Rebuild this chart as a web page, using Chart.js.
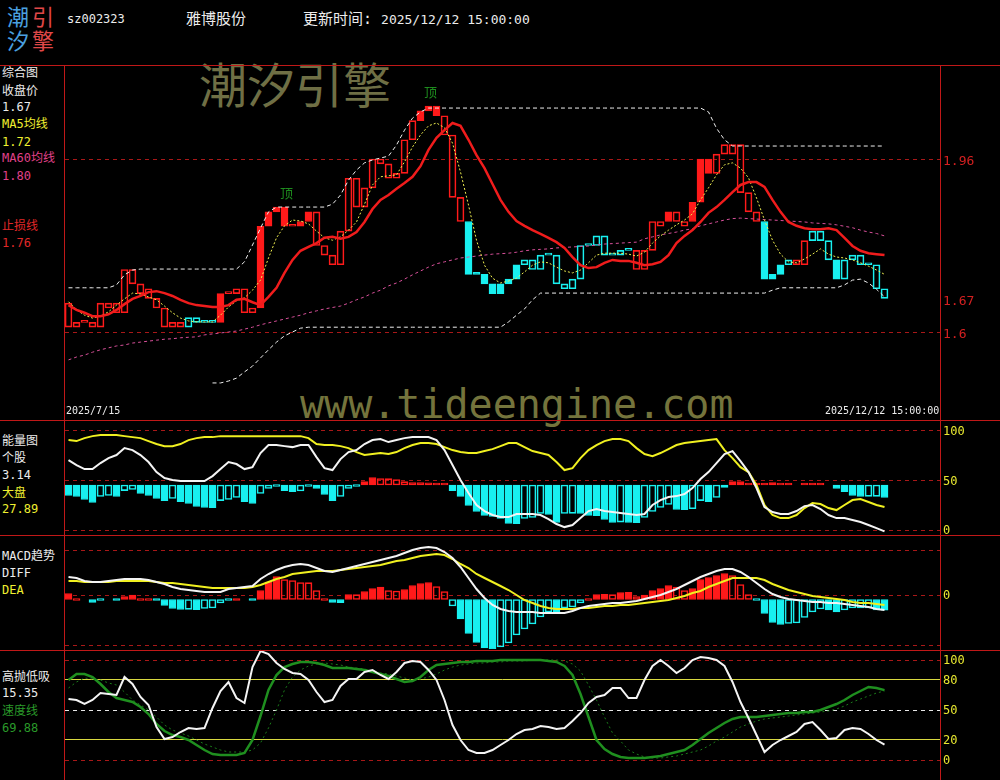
<!DOCTYPE html>
<html>
<head>
<meta charset="utf-8">
<script src="https://cdn.jsdelivr.net/npm/chart.js@4.4.1/dist/chart.umd.min.js"></script>
<style>
body { margin: 0; background: #000; }
#wrap { position: relative; width: 1000px; height: 780px; overflow: hidden; background: #000; }
.t { position: absolute; white-space: nowrap; font-family: "DejaVu Sans Mono", "Noto Sans CJK SC", monospace; font-size: 12px; line-height: 14px; color: #ececec; z-index: 3; }
.ln { position: absolute; background: #c01818; z-index: 4; }
.wm { position: absolute; white-space: nowrap; z-index: 1; }
canvas { position: absolute; z-index: 2; }
</style>
</head>
<body>
<div id="wrap">
  <!-- header -->
  <div class="t" style="left:7px;top:3px;font:22px 'Noto Sans CJK SC';line-height:24px;color:#4aa0e0">潮</div>
  <div class="t" style="left:32px;top:3px;font:22px 'Noto Sans CJK SC';line-height:24px;color:#e04848">引</div>
  <div class="t" style="left:7px;top:27px;font:22px 'Noto Sans CJK SC';line-height:24px;color:#4aa0e0">汐</div>
  <div class="t" style="left:32px;top:27px;font:22px 'Noto Sans CJK SC';line-height:24px;color:#e04848">擎</div>
  <div class="t" style="left:67px;top:12px;font-size:12px">sz002323</div>
  <div class="t" style="left:186px;top:10px;font-size:15px;line-height:18px">雅博股份</div>
  <div class="t" style="left:303px;top:10px;font-size:15px;line-height:18px">更新时间: <span style="font-size:13px">2025/12/12 15:00:00</span></div>

  <!-- watermarks -->
  <div class="wm" style="left:199px;top:56px;font:48px 'Noto Sans CJK SC';line-height:52px;color:#6f6f45">潮汐引擎</div>
  <div class="wm" style="left:300px;top:384px;font:40px 'DejaVu Sans Mono';line-height:40px;color:#74743c">www.tideengine.com</div>

  <!-- left labels -->
  <div class="t" style="left:2px;top:66px">综合图</div>
  <div class="t" style="left:2px;top:84px">收盘价</div>
  <div class="t" id="vClose" style="left:2px;top:100px"></div>
  <div class="t" style="left:2px;top:117px;color:#f0f030">MA5均线</div>
  <div class="t" id="vMa5" style="left:2px;top:135px;color:#f0f030"></div>
  <div class="t" style="left:2px;top:151px;color:#e0408a">MA60均线</div>
  <div class="t" id="vMa60" style="left:2px;top:169px;color:#e0408a"></div>
  <div class="t" style="left:2px;top:219px;color:#e02828">止损线</div>
  <div class="t" id="vStop" style="left:2px;top:236px;color:#e02828"></div>

  <div class="t" style="left:2px;top:434px">能量图</div>
  <div class="t" style="left:2px;top:451px">个股</div>
  <div class="t" id="vStock" style="left:2px;top:468px"></div>
  <div class="t" style="left:2px;top:486px;color:#f0f030">大盘</div>
  <div class="t" id="vMarket" style="left:2px;top:502px;color:#f0f030"></div>

  <div class="t" style="left:2px;top:549px">MACD趋势</div>
  <div class="t" style="left:2px;top:566px">DIFF</div>
  <div class="t" style="left:2px;top:583px;color:#f0f030">DEA</div>

  <div class="t" style="left:2px;top:670px">高抛低吸</div>
  <div class="t" id="vGp" style="left:2px;top:686px"></div>
  <div class="t" style="left:2px;top:704px;color:#2a9a2a">速度线</div>
  <div class="t" id="vSpeed" style="left:2px;top:721px;color:#2a9a2a"></div>

  <div class="t" style="left:66px;top:405px;font-size:10px;line-height:12px">2025/7/15</div>
  <div class="t" style="left:825px;top:405px;font-size:10px;line-height:12px">2025/12/12 15:00:00</div>

  <!-- frame -->
  <div class="ln" style="left:0;top:65px;width:1000px;height:1px"></div>
  <div class="ln" style="left:0;top:420px;width:1000px;height:1px"></div>
  <div class="ln" style="left:0;top:535px;width:1000px;height:1px"></div>
  <div class="ln" style="left:0;top:650px;width:1000px;height:1px"></div>
  <div class="ln" style="left:64px;top:65px;width:1px;height:715px"></div>
  <div class="ln" style="left:940px;top:65px;width:1px;height:715px"></div>

  <canvas id="cMain" width="935" height="355" style="left:65px;top:65px"></canvas>
  <canvas id="cVol" width="935" height="115" style="left:65px;top:420px"></canvas>
  <canvas id="cMacd" width="935" height="114" style="left:65px;top:535px"></canvas>
  <canvas id="cGp" width="935" height="131" style="left:65px;top:649px"></canvas>
</div>

<script>
// K线 (2025/7/15 - 2025/12/12), body top / bottom, style: R/r red filled/hollow, C/c cyan filled/hollow
var kTop = [
    1.66,1.62,1.62,1.62,1.66,1.66,1.66,1.73,1.73,1.70,
    1.69,1.67,1.65,1.62,1.62,1.63,1.63,1.62,1.62,1.68,
    1.68,1.69,1.69,1.65,1.82,1.85,1.86,1.86,1.82,1.83,
    1.85,1.85,1.78,1.76,1.81,1.92,1.92,1.90,1.96,1.96,
    1.95,1.93,2.00,2.04,2.06,2.07,2.07,2.05,2.01,1.88,
    1.83,1.72,1.72,1.70,1.70,1.71,1.74,1.75,1.75,1.76,
    1.76,1.76,1.70,1.71,1.78,1.78,1.80,1.80,1.76,1.77,
    1.77,1.77,1.77,1.83,1.83,1.85,1.85,1.83,1.87,1.96,
    1.96,1.97,1.99,1.99,1.99,1.89,1.85,1.83,1.72,1.74,
    1.75,1.75,1.79,1.81,1.81,1.79,1.75,1.75,1.76,1.76,
    1.74,1.74,1.69];
var kBot = [
    1.61,1.61,1.62,1.61,1.61,1.65,1.64,1.64,1.70,1.68,
    1.67,1.65,1.61,1.61,1.61,1.61,1.62,1.62,1.62,1.62,
    1.68,1.68,1.64,1.64,1.65,1.82,1.85,1.82,1.82,1.82,
    1.83,1.78,1.76,1.74,1.74,1.81,1.86,1.86,1.90,1.95,
    1.92,1.92,1.93,2.00,2.04,2.06,2.05,2.01,1.88,1.83,
    1.72,1.72,1.70,1.68,1.68,1.70,1.71,1.74,1.73,1.73,
    1.76,1.70,1.69,1.69,1.71,1.78,1.78,1.76,1.76,1.76,
    1.77,1.73,1.73,1.77,1.82,1.83,1.83,1.82,1.83,1.87,
    1.93,1.93,1.97,1.97,1.89,1.85,1.83,1.71,1.71,1.72,
    1.74,1.74,1.74,1.79,1.79,1.75,1.71,1.71,1.75,1.74,
    1.74,1.69,1.67];
var kStyle = 'rrrrrrrrrr' + 'rrrrrccccR' + 'rrrrRRRRrR' + 'Rrrrrrrrrr' + 'rrrrRRRrrr' +
             'CCCCCCCccc' + 'cccccccccc' + 'crrrrRrrRR' + 'RrrrrrrCCC' + 'crrcccCccc' + 'ccc';
var closeLast = 1.67;

var stopLine = [
    1.656,1.646,1.640,1.633,1.633,1.637,1.646,1.658,1.669,1.675,
    1.683,1.685,1.681,1.675,1.667,1.660,1.656,1.654,1.652,1.652,
    1.656,1.667,1.669,1.662,1.656,1.673,1.692,1.723,1.750,1.769,
    1.777,1.785,1.796,1.798,1.794,1.798,1.808,1.829,1.856,1.875,
    1.885,1.898,1.910,1.923,1.945,1.979,2.004,2.020,2.035,2.029,
    2.000,1.968,1.941,1.908,1.875,1.850,1.831,1.821,1.812,1.804,
    1.796,1.787,1.775,1.756,1.739,1.733,1.735,1.744,1.750,1.748,
    1.748,1.744,1.739,1.741,1.746,1.760,1.785,1.800,1.812,1.829,
    1.848,1.860,1.875,1.891,1.906,1.912,1.912,1.902,1.875,1.850,
    1.829,1.821,1.816,1.814,1.814,1.816,1.812,1.796,1.779,1.769,
    1.764,1.762,1.760];
var ma5 = [
    1.663,1.646,1.635,1.629,1.633,1.642,1.656,1.669,1.681,1.679,
    1.673,1.667,1.654,1.640,1.629,1.623,1.621,1.621,1.621,1.635,
    1.652,1.665,1.671,1.687,1.708,1.754,1.796,1.821,1.833,1.831,
    1.825,1.810,1.796,1.791,1.798,1.812,1.829,1.866,1.906,1.923,
    1.925,1.927,1.954,1.985,2.010,2.029,2.035,2.025,1.993,1.933,
    1.864,1.791,1.739,1.712,1.702,1.706,1.712,1.725,1.739,1.746,
    1.744,1.735,1.727,1.723,1.729,1.744,1.760,1.764,1.764,1.764,
    1.762,1.758,1.766,1.785,1.800,1.812,1.823,1.833,1.846,1.875,
    1.900,1.927,1.948,1.952,1.941,1.921,1.879,1.833,1.791,1.762,
    1.746,1.744,1.752,1.762,1.773,1.762,1.756,1.754,1.750,1.744,
    1.737,1.729,1.72];
var ma60 = [
    1.542,1.548,1.552,1.558,1.563,1.567,1.571,1.573,1.577,1.579,
    1.581,1.583,1.585,1.586,1.588,1.589,1.590,1.594,1.596,1.598,
    1.600,1.602,1.606,1.610,1.615,1.619,1.623,1.627,1.631,1.635,
    1.640,1.644,1.648,1.651,1.654,1.660,1.667,1.673,1.681,1.687,
    1.696,1.702,1.710,1.719,1.727,1.735,1.742,1.746,1.750,1.754,
    1.756,1.758,1.760,1.762,1.763,1.764,1.766,1.769,1.771,1.772,
    1.773,1.775,1.776,1.777,1.778,1.779,1.781,1.783,1.784,1.785,
    1.786,1.787,1.794,1.798,1.802,1.805,1.808,1.812,1.815,1.821,
    1.825,1.829,1.833,1.836,1.837,1.836,1.835,1.834,1.833,1.832,
    1.831,1.830,1.829,1.827,1.826,1.825,1.823,1.820,1.817,1.812,
    1.808,1.805,1.80];
var upperBand = [
    1.692,1.692,1.692,1.692,1.692,1.692,1.698,1.719,1.729,1.731,
    1.731,1.731,1.731,1.731,1.731,1.731,1.731,1.731,1.731,1.731,
    1.731,1.731,1.746,1.781,1.816,1.850,1.860,1.860,1.860,1.860,
    1.860,1.860,1.860,1.866,1.885,1.916,1.937,1.952,1.958,1.962,
    1.966,1.989,2.020,2.045,2.058,2.066,2.066,2.066,2.066,2.066,
    2.066,2.066,2.066,2.066,2.066,2.066,2.066,2.066,2.066,2.066,
    2.066,2.066,2.066,2.066,2.066,2.066,2.066,2.066,2.066,2.066,
    2.066,2.066,2.066,2.066,2.066,2.066,2.066,2.066,2.066,2.066,
    2.058,2.024,2.000,1.987,1.987,1.987,1.987,1.987,1.987,1.987,
    1.987,1.987,1.987,1.987,1.987,1.987,1.987,1.987,1.987,1.987,
    1.987,1.987,1.987];
var lowerBand = [
    null,null,null,null,null,null,null,null,null,null,
    null,null,null,null,null,null,null,null,1.494,1.494,
    1.498,1.504,1.517,1.529,1.546,1.563,1.579,1.592,1.600,1.608,
    1.610,1.610,1.610,1.610,1.610,1.610,1.610,1.610,1.610,1.610,
    1.610,1.610,1.610,1.610,1.610,1.610,1.610,1.610,1.610,1.610,
    1.610,1.610,1.610,1.610,1.610,1.621,1.635,1.648,1.667,1.681,
    1.681,1.681,1.681,1.681,1.681,1.681,1.681,1.681,1.681,1.681,
    1.681,1.681,1.681,1.681,1.681,1.681,1.681,1.681,1.681,1.681,
    1.681,1.681,1.681,1.681,1.681,1.681,1.681,1.681,1.687,1.692,
    1.692,1.692,1.692,1.692,1.692,1.692,1.692,1.698,1.708,1.710,
    1.702,1.689,1.673];
var dingIdx = [28, 46];
var mainTicks = [1.96, 1.67, 1.6];
var mainTickText = ['1.96', '1.67', '1.6'];
var mainTickLine = [1, 0, 1];

// 能量图
var energyStock = [
    75.2,70.2,66.1,66.1,72.2,77.2,80.3,87.3,85.3,80.3,
    73.2,63.1,57.0,55.0,54.0,54.0,54.0,54.0,59.0,66.1,
    73.2,71.2,66.1,68.1,82.3,90.4,90.4,89.3,88.3,90.4,
    90.4,78.2,67.1,65.1,76.2,83.3,85.3,91.4,95.4,96.4,
    93.4,95.4,97.4,98.4,98.4,98.4,95.4,85.3,70.2,55.0,
    41.9,29.8,23.7,19.7,17.6,17.6,20.7,20.7,20.7,19.7,
    15.6,10.6,7.5,9.6,16.6,23.7,25.7,23.7,22.7,21.7,
    20.7,19.7,20.7,29.8,34.8,37.8,38.8,40.9,46.9,56.0,
    63.1,72.2,81.3,84.3,74.2,63.1,46.9,27.7,22.7,20.7,
    20.7,23.7,28.7,29.8,25.7,19.7,16.6,16.6,14.6,12.6,
    9.6,6.5,3.14];
var energyMarket = [
    95.4,94.4,97.4,99.4,100.5,100.5,100.5,99.4,98.4,97.4,
    94.4,91.4,89.3,89.3,91.4,95.4,97.4,98.4,98.4,99.4,
    99.4,99.4,99.4,99.4,99.4,99.4,99.4,99.4,99.4,99.4,
    97.4,91.4,90.4,90.4,89.3,87.3,83.3,80.3,81.3,82.3,
    81.3,83.3,87.3,90.4,92.4,92.4,91.4,88.3,85.3,83.3,
    82.3,82.3,84.3,86.3,89.3,92.4,92.4,88.3,84.3,82.3,
    80.3,73.2,65.1,67.1,77.2,85.3,90.4,94.4,96.4,96.4,
    94.4,87.3,81.3,79.2,82.3,86.3,90.4,92.4,93.4,94.4,
    95.4,96.4,85.3,77.2,68.1,63.1,50.0,29.8,19.7,16.6,
    16.6,19.7,26.7,31.8,30.8,26.7,24.7,29.8,34.8,35.8,
    32.8,29.8,27.89];
var energyBar = [
    -10.6,-11.6,-14.6,-17.7,-11.6,-10.6,-11.6,-5.6,-4.5,-8.6,
    -10.6,-13.6,-15.7,-13.6,-16.7,-18.7,-21.7,-22.7,-22.8,-15.7,
    -14.6,-12.6,-16.7,-18.7,-8.6,-3.5,-1.5,-5.6,-6.6,-6.0,
    -1.5,-3.5,-9.6,-15.7,-11.6,-3.5,-1.5,3.5,7.6,6.6,
    6.5,5.6,3.5,2.5,2.4,2.3,0.8,0.7,-5.6,-11.6,
    -20.7,-26.8,-30.8,-31.8,-33.8,-38.9,-39.0,-33.8,-32.8,-28.8,
    -29.8,-37.9,-28.8,-28.7,-28.8,-30.8,-30.9,-34.8,-37.9,-37.5,
    -37.9,-38.0,-32.8,-26.8,-22.7,-19.7,-24.7,-24.8,-24.0,-15.7,
    -16.7,-12.6,-2.5,3.5,3.6,0.5,0.3,2.0,2.5,0.5,
    1.5,null,0.3,0.3,0.3,null,-3.5,-6.6,-10.6,-11.6,
    -11.5,-11.4,-12.6];
var energyBase = 50;
var volTicks = [100, 50, 0];
var volTickText = ['100', '50', '0'];

// MACD
var diff = [
    0.0225,0.0215,0.0185,0.0175,0.0175,0.0185,0.0195,0.0205,0.0205,0.0205,
    0.0195,0.0175,0.0155,0.0125,0.0105,0.0095,0.0085,0.0075,0.0075,0.0075,
    0.0105,0.0115,0.0125,0.0135,0.0205,0.0255,0.0295,0.0325,0.0345,0.0355,
    0.0345,0.0315,0.0285,0.0275,0.0295,0.0315,0.0335,0.0355,0.0375,0.0395,
    0.0415,0.0435,0.0465,0.0495,0.0515,0.0525,0.0515,0.0475,0.0415,0.0325,
    0.0215,0.0105,0.0015,-0.0055,-0.0095,-0.0115,-0.0125,-0.0125,-0.0125,-0.0135,
    -0.0135,-0.0135,-0.0135,-0.0115,-0.0085,-0.0065,-0.0055,-0.0045,-0.0035,-0.0035,
    -0.0025,-0.0015,0.0005,0.0025,0.0045,0.0075,0.0105,0.0145,0.0185,0.0225,
    0.0255,0.0285,0.0305,0.0305,0.0275,0.0225,0.0165,0.0105,0.0055,0.0025,
    0.0005,-0.0005,-0.0015,-0.0025,-0.0025,-0.0035,-0.0035,-0.0045,-0.0055,-0.0065,
    -0.0075,-0.0095,-0.0105];
var dea = [
    0.0185,0.0185,0.0175,0.0175,0.0175,0.0175,0.0185,0.0185,0.0185,0.0185,
    0.0185,0.0175,0.0165,0.0165,0.0155,0.0145,0.0135,0.0125,0.0115,0.0115,
    0.0115,0.0115,0.0115,0.0125,0.0145,0.0175,0.0205,0.0225,0.0255,0.0265,
    0.0275,0.0285,0.0285,0.0285,0.0295,0.0305,0.0315,0.0325,0.0335,0.0345,
    0.0365,0.0385,0.0395,0.0415,0.0435,0.0445,0.0455,0.0445,0.0405,0.0355,
    0.0315,0.0255,0.0215,0.0175,0.0135,0.0095,0.0045,-0.0005,-0.0035,-0.0065,
    -0.0085,-0.0095,-0.0095,-0.0095,-0.0085,-0.0085,-0.0075,-0.0065,-0.0065,-0.0055,
    -0.0055,-0.0045,-0.0035,-0.0025,-0.0015,-0.0005,0.0015,0.0035,0.0065,0.0085,
    0.0125,0.0155,0.0185,0.0215,0.0215,0.0215,0.0215,0.0195,0.0155,0.0125,
    0.0095,0.0075,0.0055,0.0035,0.0025,0.0015,0.0005,-0.0005,-0.0025,-0.0035,
    -0.0035,-0.0045,-0.0055];
var macdHist = [
    0.006,0.002,null,-0.003,-0.001,null,-0.001,0.003,0.0045,0.002,
    0.0007,-0.0007,-0.006,-0.009,-0.010,-0.0098,-0.0102,-0.009,-0.0085,-0.0035,
    -0.001,0.002,null,-0.001,0.009,0.0175,0.023,0.020,0.019,0.017,
    0.0168,0.009,0.002,-0.003,-0.0032,0.005,0.0048,0.008,0.011,0.0125,
    0.009,0.0085,0.010,0.014,0.016,0.017,0.013,0.008,-0.0065,-0.0195,
    -0.034,-0.043,-0.0485,-0.050,-0.0475,-0.0435,-0.0355,-0.0295,-0.0245,-0.0175,
    -0.0125,-0.0126,-0.0085,-0.0075,-0.0035,0.0005,0.005,0.0052,0.0048,0.007,
    0.0071,0.003,0.0045,0.009,0.011,0.014,0.0125,0.009,0.011,0.020,
    0.022,0.024,0.026,0.024,0.015,0.005,-0.001,-0.014,-0.023,-0.025,
    -0.024,-0.0235,-0.018,-0.0125,-0.0095,-0.0105,-0.0125,-0.0105,-0.0085,-0.0084,
    -0.0083,-0.0105,-0.0106];
var macdTicks = [0.044, 0, -0.050];
var macdTickText = ['', '0', ''];

// 高抛低吸
var gpLine = [
    61,60,56,60,67,66,65,83,76,63,
    55,33,21,23,28,32,31,32,52,69,
    78,62,57,93,109,106,97,91,87,86,
    80,68,58,60,74,81,81,88,90,85,
    81,88,97,99,98,90,80,60,35,20,
    10,7,7,10,15,20,26,30,31,34,
    33,31,32,39,47,57,63,65,72,72,
    62,62,80,94,100,94,87,92,100,103,
    102,100,94,78,58,42,25,8,15,20,
    24,28,36,38,30,21,22,30,32,31,
    26,20,15.35];
var speedLine = [
    80,86,86,83,76,68,62,60,58,53,
    46,36,29,25,23,20,15,10,6,5,
    5,5,7,20,44,70,85,93,96,98,
    98,97,95,92,92,92,91,90,88,86,
    84,81,78,79,83,90,95,96,97,98,
    98,99,99,99,100,100,100,100,100,100,
    99,98,94,85,66,43,20,11,6,3,
    2,2,2,3,4,6,8,10,15,21,
    27,32,37,41,43,43,43,44,45,46,
    47,47,48,48,50,53,56,60,65,69,
    73,72,69.88];
var speedSlow = [
    72,78,82,81,80,77,75,68,60,55,
    50,43,35,30,27,24,20,16,13,10,
    8,8,8,10,17,32,50,70,83,90,
    94,96,97,96,95,93,92,91,89,87,
    86,84,82,80,81,83,86,90,93,95,
    96,97,97,98,98,99,99,99,100,100,
    100,100,99,96,89,75,60,43,27,19,
    10,6,3,2,2,3,4,6,8,10,
    14,19,23,28,33,36,39,41,42,43,
    44,45,46,47,48,49,51,54,58,61,
    64,67,69];
var gpTicks = [100, 80, 50, 20, 0];
var gpTickText = ['100', '80', '50', '20', '0'];


var RED = '#ff1a1a', CYAN = '#18f0f0', GRID = '#a81818', YEL = '#e8e830';
var xMin = 0.5625, xMax = 109.9375;

function pts(arr) {
    return arr.map(function (v, i) { return {x: i + 1, y: v}; });
}

function floatBars(arr, base) {
    return arr.map(function (v, i) { return {x: i + 1, y: v === null ? null : [base, base + v]}; });
}

// filled when the bar grows, hollow when it shrinks
function barColors(arr) {
    var bg = [], bd = [];
    for (var i = 0; i < arr.length; i++) {
        var v = arr[i] === null ? 0 : arr[i];
        var p = (i > 0 && arr[i - 1] !== null) ? arr[i - 1] : 0;
        var c = v >= 0 ? RED : CYAN;
        bd.push(c);
        bg.push(Math.abs(v) >= Math.abs(p) ? c : 'rgba(0,0,0,0)');
    }
    return {bg: bg, bd: bd};
}

function line(data, color, width, dash, order) {
    return {
        type: 'line', data: pts(data), borderColor: color, borderWidth: width,
        borderDash: dash, pointRadius: 0, tension: 0, fill: false, order: order, yAxisID: 'y'
    };
}

function barSet(data, bg, bd, order) {
    return {
        type: 'bar', data: data, backgroundColor: bg, borderColor: bd, borderWidth: 1,
        borderSkipped: false, barThickness: 7, grouped: false, minBarLength: 2, order: order, yAxisID: 'y'
    };
}

function xAxis() {
    return {type: 'linear', display: false, offset: false, min: xMin, max: xMax, grid: {offset: false}};
}

function rightAxis(min, max, ticks, texts, tickColor, size, offset, gridColor, dash) {
    return {
        position: 'right', min: min, max: max,
        afterFit: function (s) { s.width = 60; s.paddingTop = 0; s.paddingBottom = 0; },
        afterBuildTicks: function (s) { s.ticks = ticks.map(function (v) { return {value: v}; }); },
        ticks: {
            color: tickColor, padding: 3, labelOffset: offset, autoSkip: false,
            font: {family: 'DejaVu Sans Mono', size: size},
            callback: function (v, i) { return texts[i]; }
        },
        grid: {drawTicks: false, color: gridColor, lineWidth: 1},
        border: {display: false, dash: dash}
    };
}

function opts(scales) {
    return {
        responsive: false,
        animation: false,
        events: [],
        layout: {padding: 0},
        plugins: {legend: {display: false}, tooltip: {enabled: false}},
        scales: scales
    };
}

var dingPlugin = {
    id: 'ding',
    afterDatasetsDraw: function (chart) {
        var ctx = chart.ctx, xs = chart.scales.x, ys = chart.scales.y;
        ctx.save();
        ctx.fillStyle = '#1e8c1e';
        ctx.font = '13px "Noto Sans CJK SC"';
        ctx.textAlign = 'center';
        ctx.textBaseline = 'middle';
        dingIdx.forEach(function (i) {
            ctx.fillText('顶', xs.getPixelForValue(i) + 2, ys.getPixelForValue(kTop[i - 1]) - 14);
        });
        ctx.restore();
    }
};

// main panel
var candles = kTop.map(function (t, i) { return {x: i + 1, y: [kBot[i], t]}; });
var kBd = [], kBg = [];
for (var i = 0; i < kStyle.length; i++) {
    var s = kStyle.charAt(i);
    var col = (s === 'R' || s === 'r') ? RED : CYAN;
    kBd.push(col);
    kBg.push((s === 'R' || s === 'C') ? col : 'rgba(0,0,0,0)');
}

new Chart(document.getElementById('cMain'), {
    type: 'bar',
    data: {
        datasets: [
            line(stopLine, '#f01c1c', 2.5, [], 0),
            line(ma5, '#f0f050', 1, [2, 2], 1),
            line(ma60, '#d8509a', 1, [3, 3], 2),
            line(upperBand, '#f0f0f0', 1, [4, 3], 3),
            line(lowerBand, '#f0f0f0', 1, [4, 3], 3),
            barSet(candles, kBg, kBd, 4)
        ]
    },
    options: opts({
        x: xAxis(),
        y: rightAxis(1.4169, 2.1556, mainTicks, mainTickText, '#d42020', 13, 3,
            function (c) { return mainTickLine[c.index] ? GRID : 'rgba(0,0,0,0)'; }, [4, 4])
    }),
    plugins: [dingPlugin]
});

// energy panel
var vc = barColors(energyBar);
new Chart(document.getElementById('cVol'), {
    type: 'bar',
    data: {
        datasets: [
            line(energyStock, '#f4f4f4', 2, [], 0),
            line(energyMarket, '#f0f020', 2, [], 1),
            barSet(floatBars(energyBar, energyBase), vc.bg, vc.bd, 2)
        ]
    },
    options: opts({
        x: xAxis(),
        y: {display: false, min: -0.5, max: 115.7},
        g: rightAxis(-5.05, 111.1, volTicks, volTickText, YEL, 12, 1, GRID, [4, 4])
    })
});

// MACD panel
var mc = barColors(macdHist);
new Chart(document.getElementById('cMacd'), {
    type: 'bar',
    data: {
        datasets: [
            line(diff, '#f4f4f4', 2, [], 0),
            line(dea, '#f0f020', 2, [], 1),
            barSet(floatBars(macdHist, 0), mc.bg, mc.bd, 2)
        ]
    },
    options: opts({
        x: xAxis(),
        y: {display: false, min: -0.0495, max: 0.0645},
        g: rightAxis(-0.054, 0.060, macdTicks, macdTickText, YEL, 12, 1, GRID, [4, 4])
    })
});

// 高抛低吸 panel
var gpGridColor = [GRID, '#d8d840', '#e8e8e8', '#d8d840', GRID];
var gpGridDash = [[4, 4], [], [4, 4], [], [4, 4]];
new Chart(document.getElementById('cGp'), {
    type: 'line',
    data: {
        datasets: [
            line(gpLine, '#f4f4f4', 2, [], 0),
            line(speedLine, '#1f8f1f', 2.5, [], 1),
            line(speedSlow, '#1a7a1a', 1, [2, 3], 2)
        ]
    },
    options: opts({
        x: xAxis(),
        y: rightAxis(-20, 111, gpTicks, gpTickText, YEL, 12, 1, gpGridColor,
            function (c) { return gpGridDash[c.index] || []; })
    })
});

document.getElementById('vClose').textContent = closeLast.toFixed(2);
document.getElementById('vMa5').textContent = ma5[ma5.length - 1].toFixed(2);
document.getElementById('vMa60').textContent = ma60[ma60.length - 1].toFixed(2);
document.getElementById('vStop').textContent = stopLine[stopLine.length - 1].toFixed(2);
document.getElementById('vStock').textContent = energyStock[energyStock.length - 1].toFixed(2);
document.getElementById('vMarket').textContent = energyMarket[energyMarket.length - 1].toFixed(2);
document.getElementById('vGp').textContent = gpLine[gpLine.length - 1].toFixed(2);
document.getElementById('vSpeed').textContent = speedLine[speedLine.length - 1].toFixed(2);
</script>
</body>
</html>
